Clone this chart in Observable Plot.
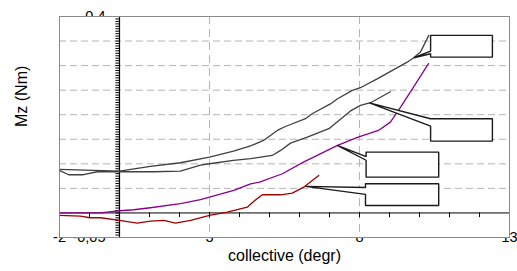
<!DOCTYPE html>
<html><head><meta charset="utf-8">
<script src="https://cdn.jsdelivr.net/npm/d3@7"></script>
<script src="https://cdn.jsdelivr.net/npm/@observablehq/plot@0.6"></script>
<style>body{margin:0;background:#fff}#chart svg{display:block}</style>
</head><body><div id="chart"></div>
<script>
// Series (collective in degr, Mz in Nm)
const upperX = [-2, 0, 1.03, 2.03, 3, 3.8, 4.37, 4.8, 5.26, 5.53, 6.2, 6.42, 7.03, 7.27, 7.76, 8.03, 8.59, 9.59, 9.81, 10.03, 10.31];
const upperY = [0.0886, 0.0851, 0.0947, 0.1022, 0.1136, 0.1259, 0.1365, 0.1477, 0.168, 0.176, 0.192, 0.202, 0.222, 0.2326, 0.2495, 0.255, 0.273, 0.307, 0.316, 0.3275, 0.3615];
const lowerX = [-2, -1.7, -1.2, -0.74, 1.13, 2.03, 2.7, 3, 3.8, 4.37, 5.09, 5.37, 5.7, 6.26, 6.98, 7.7, 8.03, 8.37, 9.03];
const lowerY = [0.0866, 0.0778, 0.0778, 0.0839, 0.0839, 0.0851, 0.0974, 0.1002, 0.1069, 0.1104, 0.1171, 0.1273, 0.1422, 0.1544, 0.1715, 0.2077, 0.219, 0.2244, 0.2468];
const purpleX = [-2, -0.63, 0, 0.48, 1.03, 2.03, 2.7, 3, 3.81, 4.37, 4.67, 5.43, 6.13, 7.27, 7.93, 8.63, 9.03, 9.37, 9.8, 10.3];
const purpleY = [0, 0, 0.0045, 0.0065, 0.0106, 0.0188, 0.027, 0.0322, 0.0458, 0.0594, 0.0627, 0.0798, 0.1035, 0.1375, 0.1538, 0.168, 0.1849, 0.2155, 0.2562, 0.3039];
const redX = [-2, -1.3, -0.99, -0.63, 0, 0.59, 1.03, 1.48, 1.87, 2.37, 3, 3.59, 4.26, 4.43, 4.76, 5.37, 5.76, 6.14, 6.64];
const redY = [-0.0051, -0.0065, -0.0098, -0.0098, -0.0153, -0.0208, -0.0167, -0.0153, -0.0208, -0.0153, -0.0051, 0.0016, 0.0118, 0.0214, 0.037, 0.037, 0.0403, 0.0525, 0.0764];

const seriesNames = ["upper", "lower", "purple", "red"];
const seriesColors = ["#404040", "#404040", "#8b008b", "#a00000"];

// Empty callout labels (anchor point, box corners, wedge base), data units
const calloutPointX = [9.81, 8.33, 7.26, 6.2];
const calloutPointY = [0.316, 0.224, 0.1375, 0.054];
const boxLeft = [10.37, 10.37, 8.22, 8.2];
const boxRight = [12.43, 12.43, 10.64, 10.64];
const boxTop = [0.3615, 0.1919, 0.1238, 0.0595];
const boxBottom = [0.3173, 0.1462, 0.0729, 0.0153];
const wedgeTop = [0.3295, 0.1919, 0.1145, 0.0519];
const wedgeBottom = [0.3242, 0.1768, 0.1073, 0.0377];

// Axes
const yTickValues = [-0.05, 0, 0.05, 0.1, 0.15, 0.2, 0.25, 0.3, 0.35, 0.4];
const yTickLabels = ["-0,05", "0", "0,05", "0,1", "0,15", "0,2", "0,25", "0,3", "0,35", "0,4"];
const xTickValues = [-2, 3, 8, 13];
const xTickLabels = ["-2", "3", "8", "13"];
const yGrid = [0.05, 0.1, 0.15, 0.2, 0.25, 0.3, 0.35];
const xGrid = [3, 8];
const xMinor = [-2, -1, 0, 1, 2, 3, 4, 5, 6, 7, 8, 9, 10, 11, 12, 13];
const yMinor = d3.range(-0.05, 0.4001, 0.005);

const seriesData = [[upperX, upperY], [lowerX, lowerY], [purpleX, purpleY], [redX, redY]]
  .flatMap(([xs, ys], i) => xs.map((x, j) => ({series: seriesNames[i], x, y: ys[j]})));

const calloutPts = calloutPointX.flatMap((px, i) => {
  const L = boxLeft[i], R = boxRight[i], T = boxTop[i], B = boxBottom[i];
  return [[L, T], [R, T], [R, B], [L, B], [L, wedgeBottom[i]], [px, calloutPointY[i]], [L, wedgeTop[i]], [L, T]]
    .map(([x, y]) => ({id: i, x, y}));
});

const font = "'Liberation Sans', Arial, sans-serif";
const chart = Plot.plot({
  width: 517, height: 271,
  marginLeft: 59, marginRight: 8, marginTop: 16, marginBottom: 34,
  x: {domain: [-2, 13], axis: null},
  y: {domain: [-0.05, 0.4], axis: null},
  color: {domain: seriesNames, range: seriesColors},
  style: {fontFamily: font, background: "#fff"},
  marks: [
    Plot.text(yTickValues, {x: 0, y: d => d, text: (d, i) => yTickLabels[i], textAnchor: "end", dx: -14, fontSize: 14.5, fill: "#000"}),
    Plot.text(xTickValues, {x: d => d, y: -0.05, text: (d, i) => xTickLabels[i], textAnchor: "middle", fontSize: 14.5, fill: "#000"}),
    Plot.frame({fill: "white", stroke: "none"}),
    Plot.ruleY(yGrid, {stroke: "#b4b4b4", strokeWidth: 1, strokeDasharray: "7,4"}),
    Plot.ruleX(xGrid, {stroke: "#b4b4b4", strokeWidth: 1, strokeDasharray: "8,5"}),
    Plot.ruleY([0], {stroke: "#000", strokeWidth: 1}),
    Plot.ruleX(xMinor, {y1: 0, y2: -0.0095, stroke: "#000", strokeWidth: 1}),
    Plot.ruleX([0], {stroke: "#000", strokeWidth: 1.2}),
    Plot.ruleY(yMinor, {x1: -0.12, x2: 0, stroke: "#000", strokeWidth: 1}),
    Plot.line(seriesData, {x: "x", y: "y", z: "series", stroke: "series", strokeWidth: 1.3}),
    Plot.line(calloutPts, {x: "x", y: "y", z: "id", fill: "white", stroke: "#1a1a1a", strokeWidth: 1.4, strokeLinejoin: "miter"}),
    Plot.frame({stroke: "#8a8a8a", strokeWidth: 1}),
    Plot.text(["Mz (Nm)"], {frameAnchor: "left", dx: -38, rotate: -90, fontSize: 16, fill: "#000"}),
    Plot.text(["collective (degr)"], {frameAnchor: "bottom", dy: 23, fontSize: 16, fill: "#000"})
  ]
});
document.getElementById("chart").append(chart);
</script>
</body></html>
